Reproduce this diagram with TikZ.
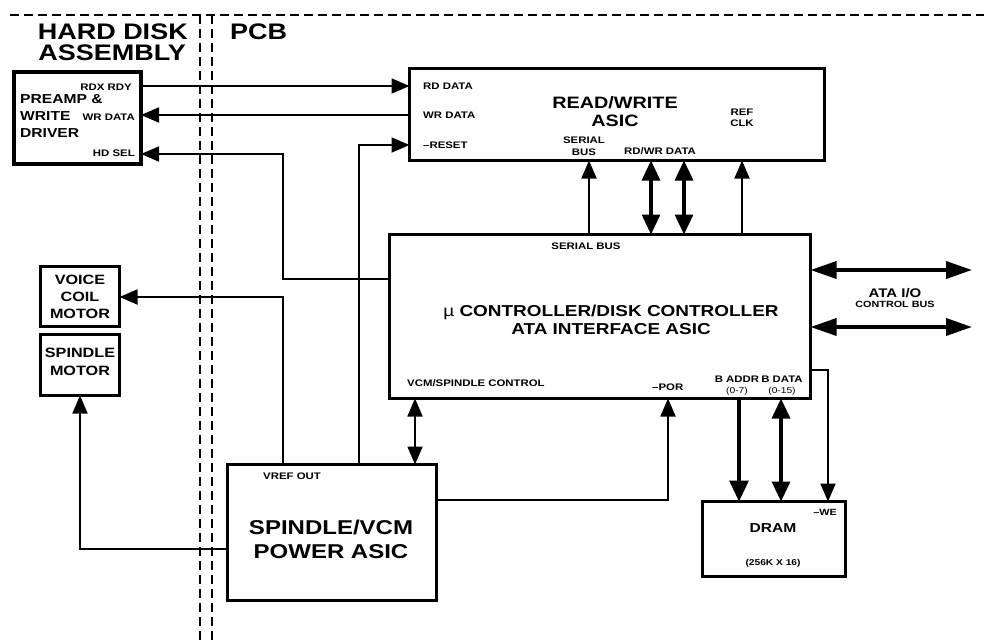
\documentclass[tikz,border=0pt]{standalone}
\usepackage{fontspec}
\setmainfont[FakeStretch=1.2]{Liberation Sans}
\usetikzlibrary{arrows.meta}

\tikzset{
bloc/.style={draw, line width=3pt, inner sep=0pt, outer sep=0pt},
fil/.style={line width=1.8pt, -{Triangle[length=18pt,width=15pt]}},
fil2/.style={line width=1.8pt, {Triangle[length=18pt,width=15pt]}-{Triangle[length=18pt,width=15pt]}},
adr/.style={line width=3.2pt, -{Triangle[length=21pt,width=19pt]}},
bus/.style={line width=3.2pt, {Triangle[length=20pt,width=18pt]}-{Triangle[length=20pt,width=18pt]}},
ata/.style={line width=3.6pt, {Triangle[length=26pt,width=17pt]}-{Triangle[length=26pt,width=17pt]}},
limite/.style={line width=2.2pt, dash pattern=on 9pt off 5pt},
petit/.style={inner sep=0pt, font=\bfseries\fontsize{9.5}{12}\selectfont},
gras/.style={inner sep=0pt, align=center, font=\bfseries}
}

\begin{document}
\begin{tikzpicture}[x=1pt,y=-1pt]
\useasboundingbox (0,0) rectangle (984,641);

% Limites
\draw[limite] (10,15) -- (984,15);
\foreach \x in {200,212}
{
\draw[limite] (\x,15) -- (\x,641);
}
\node[gras, anchor=east, font=\bfseries\fontsize{22.5}{20}\selectfont]
(hd) at (188,32) {HARD DISK};
\node[gras, anchor=east, font=\bfseries\fontsize{22.5}{20}\selectfont]
(asm) at (186,53) {ASSEMBLY};
\node[gras, anchor=west, font=\bfseries\fontsize{22.5}{20}\selectfont]
(pcb) at (230,32) {PCB};

% Blocs
\node[bloc, line width=4pt, minimum width=127pt, minimum height=92pt] (preamp) at (77.5,118) {};
\node[bloc, minimum width=415pt, minimum height=92pt] (rw) at (617,114.5) {};
\node[bloc, minimum width=421pt, minimum height=164pt] (ctrl) at (600,316.5) {};
\node[bloc, minimum width=79pt, minimum height=60pt] (vcm) at (80,296.5) {};
\node[bloc, minimum width=79pt, minimum height=61pt] (spm) at (80,365) {};
\node[bloc, minimum width=209pt, minimum height=136pt] (pwr) at (332,532.5) {};
\node[bloc, minimum width=143pt, minimum height=75pt] (dram) at (774,539) {};

% Preamp
\node[petit, anchor=east] (rdxrdy) at (132,87) {RDX RDY};
\node[gras, anchor=west, align=left, font=\bfseries\fontsize{13}{17}\selectfont]
(preampt) at (20,116) {PREAMP \&\\WRITE\\DRIVER};
\node[petit, anchor=east] (wrdata) at (135,117) {WR DATA};
\node[petit, anchor=east] (hdsel) at (135,153) {HD SEL};

% Read/write
\node[petit, anchor=west] (rwrd) at (423,86) {RD DATA};
\node[petit, anchor=west] (rwwr) at (423,115) {WR DATA};
\node[petit, anchor=west] (rwreset) at (423,145) {\textendash RESET};
\node[gras, font=\bfseries\fontsize{16.5}{18}\selectfont]
(rwt) at (615,112) {READ/WRITE\\ASIC};
\node[petit, align=center] (rwser) at (584,146) {SERIAL\\BUS};
\node[petit] (rwdata) at (660,151) {RD/WR DATA};
\node[petit, align=center, font=\bfseries\fontsize{9.5}{11}\selectfont] (rwclk) at (742,118) {REF\\CLK};

% Controleur
\node[petit] (ctser) at (586,246) {SERIAL BUS};
\node[gras, font=\bfseries\fontsize{15.8}{17.5}\selectfont]
(ctt) at (611,320) {{\mdseries µ} CONTROLLER/DISK CONTROLLER\\ATA INTERFACE ASIC};
\node[petit, anchor=west] (ctvcm) at (407,383) {VCM/SPINDLE CONTROL};
\node[petit, anchor=west] (ctpor) at (652,387) {\textendash POR};
\node[petit, align=center, font=\bfseries\fontsize{9.5}{11}\selectfont]
(ctadr) at (737,386) {B ADDR\\{\mdseries\fontsize{8.5}{10}\selectfont (0-7)}};
\node[petit, align=center, font=\bfseries\fontsize{9.5}{11}\selectfont]
(ctdat) at (782,386) {B DATA\\{\mdseries\fontsize{8.5}{10}\selectfont (0-15)}};
\node[gras, font=\bfseries\fontsize{12.5}{12}\selectfont] (atat) at (895,293) {ATA I/O};
\node[petit, font=\bfseries\fontsize{9}{11}\selectfont] (atab) at (895,304) {CONTROL BUS};

% Moteurs
\node[gras, font=\bfseries\fontsize{13.5}{16.7}\selectfont] (vcmt) at (80,297) {VOICE\\COIL\\MOTOR};
\node[gras, font=\bfseries\fontsize{13.5}{17.5}\selectfont] (spmt) at (80,362) {SPINDLE\\MOTOR};

% Alimentation
\node[petit, anchor=west] (vref) at (263,476) {VREF OUT};
\node[gras, font=\bfseries\fontsize{20}{24}\selectfont]
(pwrt) at (331,539) {SPINDLE/VCM\\POWER ASIC};

% DRAM
\node[petit, anchor=east, font=\bfseries\fontsize{9}{10}\selectfont] (dramwe) at (837,512) {\textendash WE};
\node[gras, font=\bfseries\fontsize{13}{14}\selectfont] (dramt) at (773,528) {DRAM};
\node[petit, font=\bfseries\fontsize{8.5}{10}\selectfont] (dramsz) at (773,563) {(256K X 16)};

% Liaisons
\draw[fil] (preamp.east |- 0,86) -- (rw.west |- 0,86);
\draw[fil] (rw.west |- 0,115) -- (preamp.east |- 0,115);
\draw[fil] (ctrl.west |- 0,279) -| (283,154) -- (preamp.east |- 0,154);
\draw[fil] (pwr.north -| 359,0) |- (rw.west |- 0,145);
\draw[fil] (pwr.north -| 283,0) |- (vcm.east |- 0,297);
\draw[fil] (pwr.west |- 0,549) -| (spm.south);

\foreach \x in {589,742}
{
\draw[fil] (ctrl.north -| \x,0) -- (rw.south -| \x,0);
}
\foreach \x in {651,684}
{
\draw[bus] (ctrl.north -| \x,0) -- (rw.south -| \x,0);
}

\draw[fil2] (pwr.north -| 415,0) -- (ctrl.south -| 415,0);
\draw[fil] (pwr.east |- 0,500) -| (ctrl.south -| 668,0);
\draw[adr] (ctrl.south -| 739,0) -- (dram.north -| 739,0);
\draw[bus] (ctrl.south -| 781,0) -- (dram.north -| 781,0);
\draw[fil] (ctrl.east |- 0,370) -| (dram.north -| 828,0);

\coordinate (atahaut) at (972,270);
\coordinate (atabas) at (972,327);
\foreach \c in {atahaut,atabas}
{
\draw[ata] (ctrl.east |- \c) -- (\c);
}

\end{tikzpicture}
\end{document}
